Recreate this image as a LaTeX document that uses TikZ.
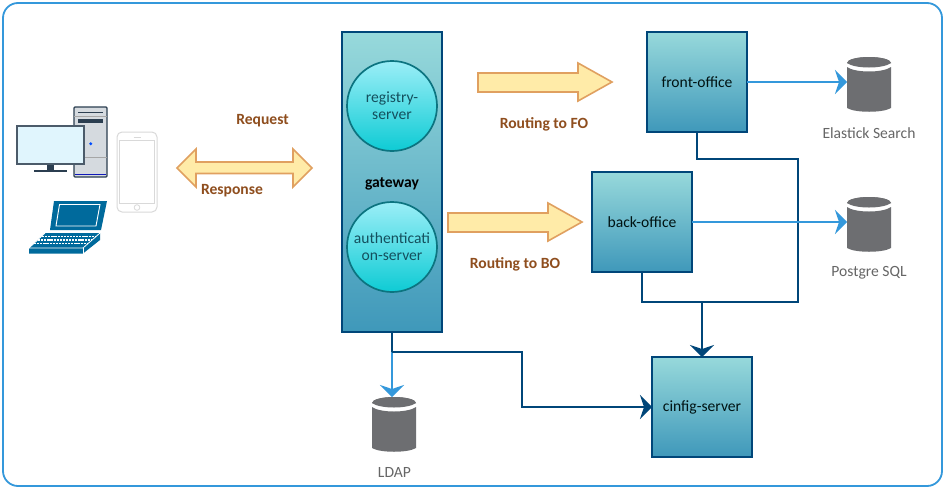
\documentclass[tikz,border=0pt]{standalone}
\usepackage{fontspec}
\setmainfont{Carlito}
\usetikzlibrary{arrows.meta,calc}
\definecolor{navy}{HTML}{004679}
\definecolor{sky}{HTML}{3498DB}
\definecolor{amber}{HTML}{E0A060}
\definecolor{cream}{HTML}{FFEBA8}
\definecolor{brownlbl}{HTML}{8F4E1E}
\definecolor{cylgray}{HTML}{6D6E71}
\definecolor{lapblue}{HTML}{006A9C}
\definecolor{darkslate}{HTML}{2B3E50}
\definecolor{towergray}{HTML}{D5DADF}
\tikzset{
  every node/.style={inner sep=0pt,outer sep=0pt,align=center},
  boxstyle/.style={draw=navy,line width=1.8pt,top color=boxtop,bottom color=boxbot,font=\fontsize{15.6}{18}\selectfont,text=black!85!teal},
  orb/.style={circle,draw=orbline,line width=1.7pt,top color=orbtop,bottom color=orbbot,minimum size=90pt,font=\fontsize{15.6}{17}\selectfont,text=orbtext},
  blockarrow/.style={draw=amber,fill=cream,line width=1.6pt,miter limit=10},
  routelbl/.style={font=\fontsize{15.6}{18}\selectfont\bfseries,text=brownlbl},
  storelbl/.style={font=\fontsize{15.6}{18}\selectfont,text=black!60},
  storebox/.style={minimum width=44pt,minimum height=54pt},
  link/.style={draw=navy,line width=1.6pt,-{Stealth[length=12pt,width=24pt,inset=4pt]}},
  plainlink/.style={draw=navy,line width=1.6pt},
  skylink/.style={draw=sky,line width=1.6pt,-{Stealth[length=12pt,width=24pt,inset=4pt]}},
}
\definecolor{boxtop}{HTML}{97D9DB}
\definecolor{boxbot}{HTML}{3F98BA}
\definecolor{orbtop}{HTML}{9BEEF7}
\definecolor{orbbot}{HTML}{0ECBD4}
\definecolor{orbline}{HTML}{0C7480}
\definecolor{orbtext}{HTML}{14505E}
\newcommand{\cylicon}[1]{%
  \fill[cylgray] ($(#1.north west)+(0,6)$) arc[start angle=180,end angle=0,x radius=22pt,y radius=6pt]
     -- ($(#1.north east)+(0,6)$) -- cycle;
  \fill[cylgray] ($(#1.north west)+(0,6)$) .. controls +(8,6) and +(-8,6) .. ($(#1.north east)+(0,6)$) arc[start angle=0,end angle=180,x radius=22pt,y radius=6pt] -- cycle;
  \fill[cylgray] ($(#1.north west)+(0,10)$) .. controls +(8,6) and +(-8,6) .. ($(#1.north east)+(0,10)$)
     -- ($(#1.south east)+(0,-3)$) .. controls +(-8,5) and +(8,5) .. ($(#1.south west)+(0,-3)$) -- cycle;
}
\begin{document}
\begin{tikzpicture}[x=1pt,y=-1pt]
\useasboundingbox (0,0) rectangle (945,488);
\fill[white] (0,0) rectangle (945,488);
\draw[sky,line width=1.8pt,rounded corners=15pt] (3,3) rectangle (942,486);

% devices: tower
\draw[darkslate,fill=towergray,line width=1.2pt,rounded corners=1pt] (74,107) rectangle (107,177);
\draw[darkslate,line width=1pt] (78,112) -- (103,112);
\draw[gray!70,line width=.8pt] (74,116.5) -- (107,116.5);
\fill[darkslate] (78,119) rectangle (103,122.5);
\draw[gray!70,line width=.8pt] (84,157) -- (107,157);
\fill[blue!70!cyan] (90.7,143.7) circle (1.6pt);
\draw[blue!60!darkslate,line width=1pt] (75,174.5) -- (106,174.5);
% devices: monitor
\fill[darkslate] (47,164) rectangle (54,170);
\fill[darkslate] (34,170) rectangle (67,172);
\draw[darkslate!85!white,fill=cyan!12,line width=1.2pt] (17,126) rectangle (84,164);
% devices: phone
\draw[black!15,line width=1pt,rounded corners=5pt] (117,132) rectangle (157,212);
\draw[black!15,line width=.9pt] (119.5,140) rectangle (154.5,203);
\draw[black!15,line width=.8pt] (137,207.5) circle (2.8pt);
\draw[black!15,line width=.8pt] (133.5,137) -- (140.5,137);
% devices: laptop
\fill[lapblue] (54,201) -- (107,201) -- (101,230) -- (50,230) -- cycle;
\draw[white,line width=.9pt] (59.5,204.5) -- (100,204.5) -- (96,226) -- (56,226) -- cycle;
\fill[lapblue] (45,233) -- (100,233) -- (100,240) -- (83,253.5) -- (29,253.5) -- (29,248) -- cycle;
\draw[white,line width=.8pt] (29,248) -- (83,248) -- (100,233);
\draw[white,line width=.8pt] (83,248) -- (83,253.5);
\foreach \yy/\xa/\xb in {236.5/42/95,240/38/91,243.5/34/87}
  \draw[white,line width=1.6pt,dash pattern=on 2.2pt off .9pt] (\xa,\yy) -- (\xb,\yy);
\draw[white,line width=.8pt] (45,233) -- (29,248);

% block arrows
\draw[blockarrow] (177,168) -- (196,149) -- (196,162) -- (293,162) -- (293,149) -- (312,168) -- (293,187) -- (293,173.5) -- (196,173.5) -- (196,187) -- cycle;
\draw[blockarrow] (478,73) -- (578,73) -- (578,63) -- (612,82) -- (578,101) -- (578,92) -- (478,92) -- cycle;
\draw[blockarrow] (448,213) -- (548,213) -- (548,203) -- (582,222) -- (548,241) -- (548,232) -- (448,232) -- cycle;

% boxes
\node[boxstyle,minimum width=100pt,minimum height=300pt] (gateway) at (392,182) {};
\node[orb] (registry) at (392,106) {\raisebox{-1pt}{\parbox{80pt}{\centering registry-\\server}}};
\node[orb] (auth) at (392,247) {\raisebox{-1pt}{\parbox{80pt}{\centering authenticati\\on-server}}};
\node[font=\fontsize{15.6}{18}\selectfont\bfseries,text=black] (gwlabel) at (392,184) {gateway};
\node[boxstyle,minimum width=100pt,minimum height=100pt] (front) at (697,82) {\raisebox{-1pt}{front-office}};
\node[boxstyle,minimum width=100pt,minimum height=100pt] (back) at (642,222) {\raisebox{-1pt}{back-office}};
\node[boxstyle,minimum width=100pt,minimum height=100pt] (config) at (702,407) {\raisebox{-1pt}{cinfig-server}};

% stores
\node[storebox] (elastic) at (869,84) {};
\node[storebox] (postgre) at (869,224) {};
\node[storebox] (ldap) at (394,424) {};
\cylicon{elastic}
\cylicon{postgre}
\cylicon{ldap}

% labels
\node[routelbl] (lblreq) at (262.5,121) {Request};
\node[routelbl] (lblresp) at (232,191) {Response};
\node[routelbl] (lblfo) at (544,124) {Routing to FO};
\node[routelbl] (lblbo) at (515,264) {Routing to BO};
\node[storelbl] (lblelastic) at (869,133) {Elastick Search};
\node[storelbl] (lblpostgre) at (869,273) {Postgre SQL};
\node[storelbl] (lblldap) at (394.5,472.5) {LDAP};

% connectors
\coordinate (gwjoin) at (gateway.south |- 0,352);
\coordinate (merge) at (config.north |- 0,302);
\draw[skylink] (gwjoin) -- (gwjoin |- ldap.north);
\draw[plainlink] (gateway.south) -- (gwjoin);
\draw[link] (gwjoin) -- (522,352) -- (522,407) -- (config.west);
\draw[plainlink] (front.south) -- (697,159) -- (798,159) -- (798,302) -- (merge);
\draw[plainlink] (back.south) -- (642,302) -- (merge);
\draw[link] (merge) -- (config.north);
\draw[skylink] (front.east) -- (elastic.west |- front.east);
\draw[skylink] (back.east) -- (postgre.west |- back.east);
\end{tikzpicture}
\end{document}
